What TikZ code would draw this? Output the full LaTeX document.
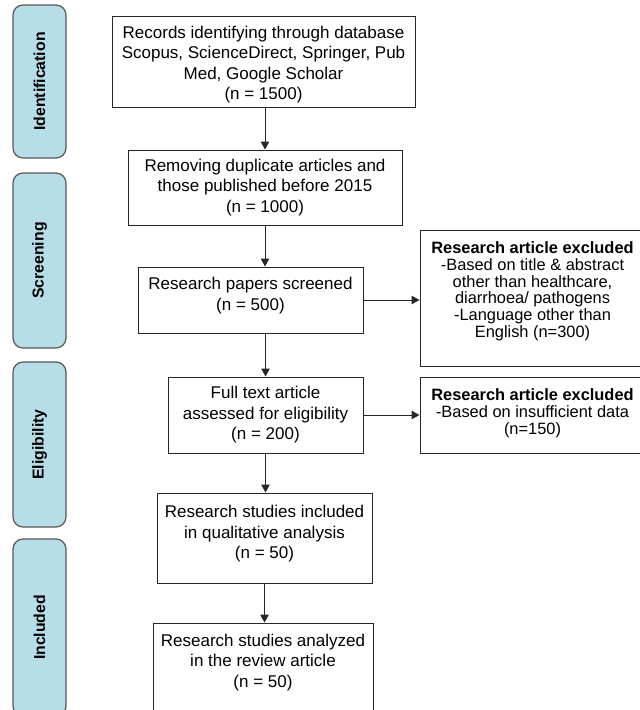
\documentclass[tikz,border=0pt]{standalone}
\usepackage{fontspec}
\setmainfont{Liberation Sans}
\usepackage{xcolor}
\usepackage{tikz}
\usetikzlibrary{arrows.meta, positioning}
\definecolor{phasefill}{HTML}{B7DDE8}
\definecolor{phaseline}{HTML}{595959}
\definecolor{boxline}{HTML}{262626}
\tikzstyle{arr}=[-{Triangle[length=8pt,width=8.5pt]},line width=1pt,color=boxline]
\tikzstyle{stage}=[draw=boxline,line width=1pt,fill=white,align=center,inner sep=2pt,
        font=\fontsize{17}{20.5}\selectfont]
\tikzstyle{excl}=[stage,minimum width=225pt,font=\fontsize{16.4}{16.8}\selectfont]
\tikzstyle{phase}=[draw=phaseline,line width=1.2pt,fill=phasefill,rounded corners=10pt,
        rotate=90,minimum height=53pt,inner sep=0pt,font=\fontsize{15.8}{18}\selectfont\bfseries]

\begin{document}
\begin{tikzpicture}[x=1pt,y=-1pt]
  \useasboundingbox (0,0) rectangle (640,710);
  \clip (0,0) rectangle (640,710);
  % phases on the left
  \node[phase,minimum width=153pt] (idph)  at (39.5,81.5)  {Identification};
  \node[phase,minimum width=175pt] (scrph) at (39.5,260.5) {Screening};
  \node[phase,minimum width=165pt] (eliph) at (39.5,444.5) {Eligibility};
  \node[phase,minimum width=177pt] (incph) at (39.5,627.5) {Included};
  % main flow
  \node[stage,minimum width=303pt,minimum height=91pt,text height=80pt] (rec) at (263.5,61.5)
        {Records identifying through database\\Scopus, ScienceDirect, Springer, Pub\\Med, Google Scholar\\(n = 1500)};
  \node[stage,minimum width=274pt,minimum height=75pt] (dup) at (265,187.5)
        {Removing duplicate articles and\\those published before 2015\\(n = 1000)};
  \node[stage,minimum width=225pt,minimum height=66pt,text depth=12pt] (scr) at (250.5,300)
        {Research papers screened\\(n = 500)};
  \node[stage,minimum width=195pt,minimum height=76pt] (full) at (265.5,415)
        {Full text article\\assessed for eligibility\\(n = 200)};
  \node[stage,minimum width=215pt,minimum height=90pt,text depth=12pt] (qual) at (264.5,538)
        {Research studies included\\in qualitative analysis\\(n = 50)};
  \node[stage,minimum width=220pt,minimum height=92pt,text depth=17pt] (rev) at (263,669)
        {Research studies analyzed\\in the review article\\(n = 50)};
  % excluded
  \node[excl,minimum height=136pt,text depth=17pt] (exc1) at (532.5,298)
        {\textbf{Research article excluded}\\-Based on title \& abstract\\other than healthcare,\\diarrhoea/ pathogens\\-Language other than\\English (n=300)};
  \node[excl,minimum height=76pt,text depth=7pt] (exc2) at (532.5,415)
        {\textbf{Research article excluded}\\-Based on insufficient data\\(n=150)};
  % connectors
  \draw[arr] (dup.north |- rec.south) -- (dup.north);
  \draw[arr] (dup.south) -- (dup.south |- scr.north);
  \draw[arr] (full.north |- scr.south) -- (full.north);
  \draw[arr] (full.south) -- (full.south |- qual.north);
  \draw[arr] (qual.south) -- (qual.south |- rev.north);
  \draw[arr] (scr.east) -- (scr.east -| exc1.west);
  \draw[arr] (full.east) -- (full.east -| exc2.west);
\end{tikzpicture}
\end{document}
